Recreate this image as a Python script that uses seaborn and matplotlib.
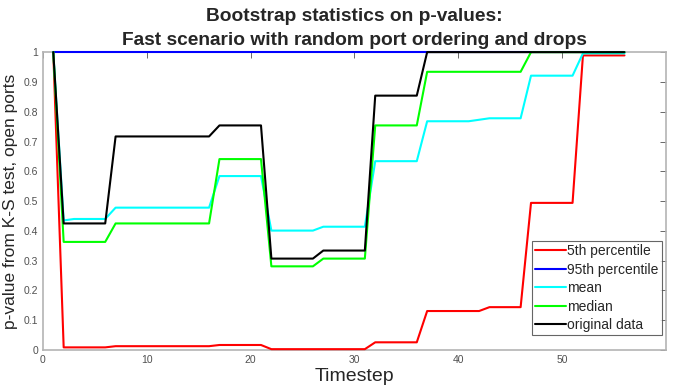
import numpy as np
import pandas as pd
import matplotlib
matplotlib.use("Agg")
import matplotlib.pyplot as plt
import seaborn as sns

# timesteps 1..56
timestep = list(range(1, 57))

p5 = ([1.0] + [0.009] * 5 + [0.013] * 10 + [0.017] * 5 + [0.003] * 10
      + [0.026] * 5 + [0.131] * 6 + [0.144] * 4 + [0.494] * 5 + [0.989] * 5)
p95 = [1.0] * 56
mean = ([1.0, 0.435] + [0.44] * 4 + [0.478] * 10 + [0.584] * 5 + [0.401] * 5
        + [0.414] * 5 + [0.634] * 5 + [0.768] * 5 + [0.773] + [0.778] * 4
        + [0.921] * 5 + [0.996] * 5)
median = ([1.0] + [0.363] * 5 + [0.425] * 10 + [0.641] * 5 + [0.281] * 5
          + [0.307] * 5 + [0.754] * 5 + [0.934] * 10 + [1.0] * 10)
original = ([1.0] + [0.425] * 5 + [0.717] * 10 + [0.754] * 5 + [0.307] * 5
            + [0.334] * 5 + [0.854] * 5 + [1.0] * 20)

labels = ["5th percentile", "95th percentile", "mean", "median", "original data"]
colors = ["#ff0000", "#0000ff", "#00ffff", "#00ff00", "#000000"]

df = pd.DataFrame({
    "Timestep": timestep * 5,
    "p": p5 + p95 + mean + median + original,
    "series": np.repeat(labels, len(timestep)),
})

sns.set_style("white")
plt.rcParams["font.family"] = ["Liberation Sans", "DejaVu Sans"]

fig, ax = plt.subplots(figsize=(6.81, 3.92), dpi=100)
fig.subplots_adjust(left=0.063, right=0.978, top=0.867, bottom=0.107)

sns.lineplot(data=df, x="Timestep", y="p", hue="series", hue_order=labels,
             palette=dict(zip(labels, colors)), linewidth=1.5, ax=ax)
for ln in ax.get_lines():
    ln.set_clip_on(False)
    ln.set_zorder(3)

ax.set_xlim(0, 60)
ax.set_ylim(0, 1)
ax.set_xticks([0, 10, 20, 30, 40, 50])
ax.set_yticks(np.round(np.arange(0, 1.01, 0.1), 1))
ax.set_yticklabels(["0", "0.1", "0.2", "0.3", "0.4", "0.5", "0.6", "0.7", "0.8", "0.9", "1"])
ax.tick_params(direction="in", length=4, width=0.6, colors="#505050",
               labelsize=7.5, top=True, right=True, labelcolor="#505050")
for s in ax.spines.values():
    s.set_color("#b4b4b4")
    s.set_linewidth(1.2)

ax.set_xlabel("Timestep", fontsize=14, color="#262626", labelpad=2)
ax.set_ylabel("p-value from K-S test, open ports", fontsize=12.5, color="#262626", labelpad=4)
ax.set_title("Bootstrap statistics on p-values:\nFast scenario with random port ordering and drops",
             fontsize=13.8, fontweight="bold", pad=5, linespacing=1.55)

leg = ax.legend(loc="lower right", fontsize=10, frameon=True, fancybox=False,
                handlelength=2.2, handletextpad=0.1, borderpad=0.25,
                labelspacing=0.32, borderaxespad=0.3, bbox_to_anchor=(1.0, 0.035))
leg.get_frame().set_edgecolor("#404040")
leg.get_frame().set_linewidth(0.8)

plt.savefig("out.png", dpi=100)
plt.close()
